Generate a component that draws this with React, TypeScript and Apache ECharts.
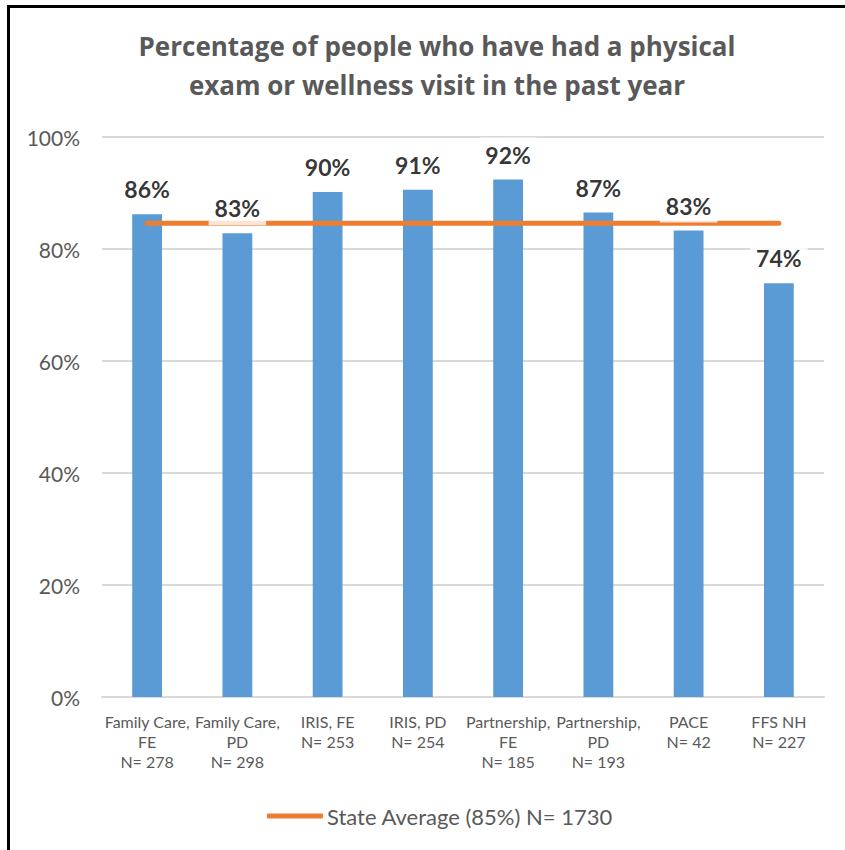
import React, { useEffect, useRef } from "react";
import * as echarts from "echarts";

const categories = [
  "Family Care,\nFE\nN= 278",
  "Family Care,\nPD\nN= 298",
  "IRIS, FE\nN= 253",
  "IRIS, PD\nN= 254",
  "Partnership,\nFE\nN= 185",
  "Partnership,\nPD\nN= 193",
  "PACE\nN= 42",
  "FFS NH\nN= 227",
];
const values = [86.2, 82.8, 90.2, 90.6, 92.4, 86.5, 83.3, 73.9];
const stateAverage = 84.6;
const stateAverageName = "State Average (85%) N= 1730";
const titleText = "Percentage of people who have had a physical\nexam or wellness visit in the past year";

export default function App() {
  const ref = useRef<HTMLDivElement>(null);
  useEffect(() => {
    if (!ref.current) return;
    const chart = echarts.init(ref.current, null, { renderer: "svg" });
    const font = "Lato, 'Open Sans', sans-serif";
    chart.setOption({
      animation: false,
      backgroundColor: "#ffffff",
      textStyle: { fontFamily: font },
      title: {
        text: titleText,
        left: 432,
        top: 21,
        textAlign: "center",
        textStyle: {
          fontFamily: "'Open Sans', sans-serif",
          fontSize: 26,
          fontWeight: "bold",
          color: "#595959",
          lineHeight: 39,
        },
      },
      graphic: [
        { type: "rect", shape: { x: 7, y: 5, width: 3, height: 845 }, style: { fill: "#000" } },
        { type: "rect", shape: { x: 7, y: 5, width: 838, height: 3 }, style: { fill: "#000" } },
      ],
      legend: {
        data: [{ name: stateAverageName, icon: "roundRect" }],
        left: 262,
        top: 800,
        itemWidth: 56,
        itemHeight: 5,
        itemGap: 4,
        textStyle: { fontFamily: font, fontSize: 22, color: "#595959", padding: [0, 0, 0, -1] },
      },
      grid: { left: 102, right: 21, top: 137, bottom: 153, containLabel: false },
      xAxis: {
        type: "category",
        data: categories,
        axisTick: { show: false },
        axisLine: { lineStyle: { color: "#d9d9d9", width: 2 } },
        axisLabel: {
          interval: 0,
          fontFamily: font,
          fontSize: 16,
          lineHeight: 20,
          color: "#595959",
          margin: 14,
        },
      },
      yAxis: {
        type: "value",
        min: 0,
        max: 100,
        interval: 20,
        axisLine: { show: false },
        axisTick: { show: false },
        splitLine: { lineStyle: { color: "#d9d9d9", width: 2 } },
        axisLabel: {
          formatter: "{value}%",
          fontFamily: font,
          fontSize: 21,
          color: "#595959",
          margin: 22,
        },
      },
      series: [
        {
          type: "bar",
          data: values,
          barWidth: "33%",
          z: 2,
          itemStyle: { color: "#5b9bd5" },
        },
        {
          name: stateAverageName,
          type: "line",
          data: values.map(() => stateAverage),
          symbol: "none",
          z: 3,
          lineStyle: { color: "#ed7d31", width: 5, cap: "round" },
          itemStyle: { color: "#ed7d31" },
        },
        {
          type: "scatter",
          data: values,
          symbolSize: 0,
          z: 4,
          silent: true,
          label: {
            show: true,
            position: "top",
            distance: 8,
            formatter: (p: any) => Math.round(p.value) + "%",
            fontFamily: font,
            fontSize: 23,
            fontWeight: "bold",
            color: "#000",
            backgroundColor: "#ffffff",
            padding: [4, 6, 4, 6],
            lineHeight: 26,
          },
        },
      ],
    });
    return () => chart.dispose();
  }, []);
  return (
    <div
      ref={ref}
      style={{ position: "fixed", left: 0, top: 0, width: 845, height: 850 }}
    />
  );
}
